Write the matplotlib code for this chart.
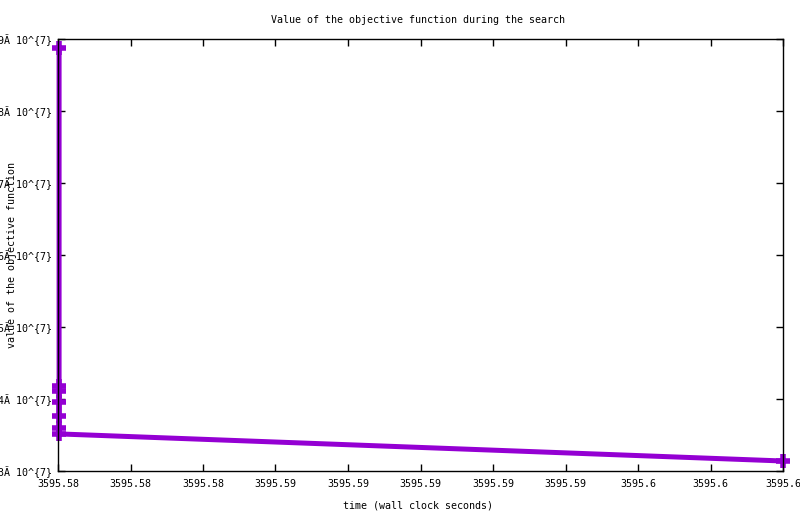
import matplotlib
matplotlib.use("Agg")
import matplotlib.pyplot as plt

# data (objective values in units of 1e7)
times = [3595.58003, 3595.58003, 3595.58003, 3595.58003, 3595.58003,
         3595.58003, 3595.58003, 3595.59999]
values = [8.875, 4.183, 4.114, 3.961, 3.766, 3.599, 3.515, 3.139]

x_ticks = [3595.580, 3595.582, 3595.584, 3595.586, 3595.588, 3595.590,
           3595.592, 3595.594, 3595.596, 3595.598, 3595.600]
x_tick_labels = ["3595.58", "3595.58", "3595.58", "3595.59", "3595.59",
                 "3595.59", "3595.59", "3595.59", "3595.6", "3595.6", "3595.6"]
y_ticks = [3, 4, 5, 6, 7, 8, 9]
y_tick_labels = ["3Ã 10^{7}", "4Ã 10^{7}", "5Ã 10^{7}", "6Ã 10^{7}",
                 "7Ã 10^{7}", "8Ã 10^{7}", "9Ã 10^{7}"]

title = "Value of the objective function during the search"
xlabel = "time (wall clock seconds)"
ylabel = "value of the objective function"

FONT = "DejaVu Sans Mono"
FS = 7.2

fig = plt.figure(figsize=(8.0, 5.14), dpi=100)
W, H = 800, 514
left, right, top, bottom = 58, 783, 39, 471
ax = fig.add_axes([left / W, 1 - bottom / H, (right - left) / W, (bottom - top) / H])

ax.plot(times, values, color="#9400D3", linewidth=3.6, marker="+",
        markersize=10, markeredgewidth=4, clip_on=False, zorder=2)

ax.set_xlim(x_ticks[0], x_ticks[-1])
ax.set_ylim(y_ticks[0], y_ticks[-1])
ax.set_xticks(x_ticks)
ax.set_xticklabels(x_tick_labels, fontfamily=FONT, fontsize=FS)
ax.set_yticks(y_ticks)
ax.set_yticklabels(y_tick_labels, fontfamily=FONT, fontsize=FS)
ax.tick_params(direction="in", length=5, width=1, top=True, right=True,
               pad=4, colors="black")
ax.tick_params(axis="x", pad=6)
for s in ax.spines.values():
    s.set_linewidth(1.0)
    s.set_zorder(5)

fig.text(418 / W, 1 - 20 / H, title, ha="center", va="center",
         fontfamily=FONT, fontsize=FS)
fig.text(418 / W, 1 - 505 / H, xlabel, ha="center", va="center",
         fontfamily=FONT, fontsize=FS)
fig.text(12 / W, 1 - 255 / H, ylabel, ha="center", va="center",
         rotation=90, fontfamily=FONT, fontsize=FS)

fig.savefig("out.png", dpi=100)
